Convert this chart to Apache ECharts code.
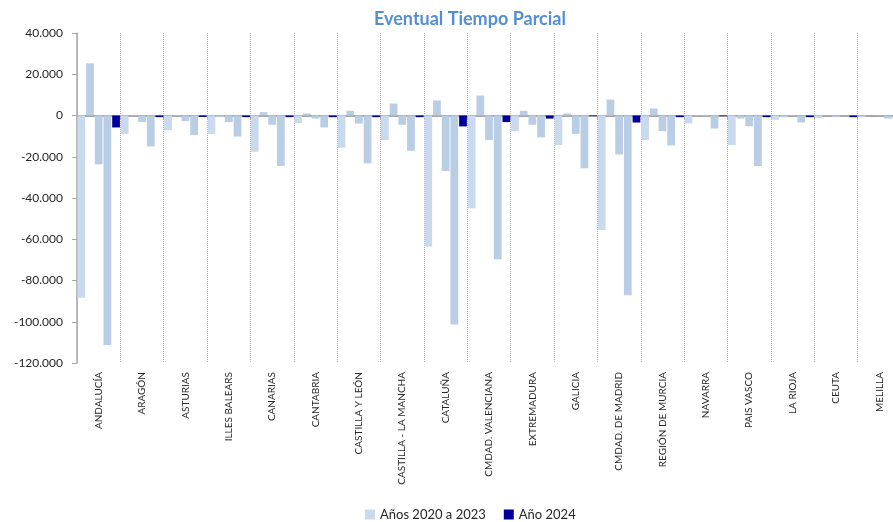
<!DOCTYPE html>
<html>
<head>
<meta charset="utf-8">
<title>Eventual Tiempo Parcial</title>
<script src="https://cdn.jsdelivr.net/npm/echarts@6/dist/echarts.min.js"></script>
<style>
  html, body { margin: 0; padding: 0; background: #fff; }
  #chart { width: 893px; height: 522px; }
</style>
</head>
<body>
<div id="chart"></div>
<script>
// Comunidades (eje de categorías)
const regiones = ['ANDALUCÍA', 'ARAGÓN', 'ASTURIAS', 'ILLES BALEARS', 'CANARIAS', 'CANTABRIA',
  'CASTILLA Y LEÓN', 'CASTILLA - LA MANCHA', 'CATALUÑA', 'CMDAD. VALENCIANA', 'EXTREMADURA',
  'GALICIA', 'CMDAD. DE MADRID', 'REGIÓN DE MURCIA', 'NAVARRA', 'PAIS VASCO', 'LA RIOJA', 'CEUTA', 'MELILLA'];

// Variación por año
const anio2020 = [-88400, -9000, -7100, -9000, -17600, -3700, -15600, -11900, -63500, -45000, -7600, -14400, -55500, -11900, -3900, -14400, -2100, -1200, -600];
const anio2021 = [25300, -300, -300, -800, 1600, 1000, 2300, 5800, 7300, 9700, 2300, 1000, 7700, 3400, -200, -1500, -800, -100, 0];
const anio2022 = [-23700, -3200, -2700, -3200, -4500, -1500, -3900, -4500, -26900, -11900, -4500, -8900, -18900, -7600, -300, -5200, -200, -800, -100];
const anio2023 = [-111300, -15000, -9500, -10200, -24400, -5800, -23200, -17100, -101300, -69700, -10600, -25600, -87100, -14500, -6300, -24500, -3400, -100, -1500];
const anio2024 = [-5800, -800, -700, -800, -800, -800, -800, -800, -5300, -3200, -1500, -300, -3400, -800, -300, -800, -800, -800, -200];

const yTicks = { min: -120000, max: 40000, step: 20000 };

const LEG_PREV = 'Años 2020 a 2023';
const LEG_2024 = 'Año 2024';

// 40000 -> "40.000"
function fmtMiles(v) {
  const s = Math.abs(v).toString().replace(/\B(?=(\d{3})+(?!\d))/g, '.');
  return (v < 0 ? '-' : '') + s;
}

const chart = echarts.init(document.getElementById('chart'), null, { renderer: 'canvas' });

function barSerie(data, color) {
  return {
    name: color === '#000099' ? LEG_2024 : LEG_PREV,
    type: 'bar',
    data: data,
    barGap: '12%',
    barCategoryGap: '2%',
    itemStyle: { color: color },
    emphasis: { disabled: true }
  };
}

const option = {
  animation: false,
  textStyle: { fontFamily: 'Lato' },
  title: {
    text: 'Eventual Tiempo Parcial',
    left: 369,
    top: 5,
    textStyle: { color: '#558ED5', fontSize: 18, fontWeight: 'bold', fontFamily: 'Lato' }
  },
  legend: {
    data: [LEG_PREV, LEG_2024],
    left: 360,
    top: 503,
    itemWidth: 10,
    itemHeight: 10,
    itemGap: 18,
    icon: 'rect',
    textStyle: { fontSize: 13, color: '#262626', fontFamily: 'Lato' }
  },
  // la última comunidad queda cortada por el borde derecho, como en el original
  grid: { left: 77, top: 33, width: 824, height: 330, outerBoundsMode: 'none', containLabel: false },
  xAxis: [
    {
      // etiquetas abajo
      type: 'category',
      data: regiones,
      position: 'bottom',
      axisLine: { show: false, onZero: false },
      axisTick: { show: false },
      axisLabel: { rotate: 90, interval: 0, fontSize: 10, color: '#262626', margin: 9 },
      splitLine: { show: true, interval: 0, lineStyle: { color: '#8EB4E3', type: [1, 1], width: 1 } }
    },
    {
      // línea del cero
      type: 'category',
      data: regiones,
      position: 'top',
      axisLine: { show: true, onZero: true, lineStyle: { color: '#A6A6A6', width: 2 } },
      axisTick: { show: true, inside: true, length: 4, interval: 0, lineStyle: { color: '#A6A6A6' } },
      axisLabel: { show: false },
      splitLine: { show: false }
    }
  ],
  yAxis: {
    type: 'value',
    min: yTicks.min,
    max: yTicks.max,
    interval: yTicks.step,
    axisLine: { show: true, lineStyle: { color: '#A6A6A6', width: 1.5 } },
    axisTick: { show: true, length: 5, lineStyle: { color: '#A6A6A6' } },
    axisLabel: { formatter: fmtMiles, fontSize: 12, color: '#262626', margin: 14 },
    splitLine: { show: false }
  },
  series: [
    barSerie(anio2020, '#C9D9EE'),
    barSerie(anio2021, '#B9CDE5'),
    barSerie(anio2022, '#B9CDE5'),
    barSerie(anio2023, '#B9CDE5'),
    barSerie(anio2024, '#000099')
  ]
};

chart.setOption(option);
</script>
</body>
</html>
